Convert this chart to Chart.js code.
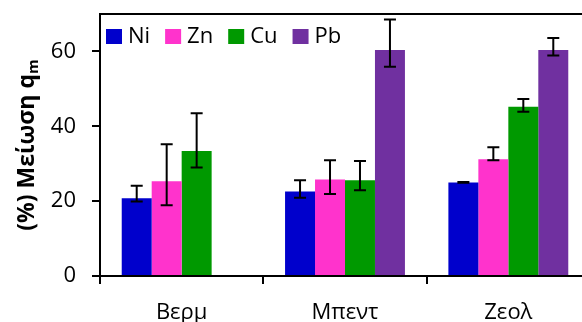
<!DOCTYPE html>
<html>
<head>
<meta charset="utf-8">
<script src="https://cdn.jsdelivr.net/npm/chart.js@4.4.1/dist/chart.umd.min.js"></script>
<style>
    html, body { margin: 0; padding: 0; background: #fff; overflow: hidden; }
    #wrap { width: 590px; height: 322px; }
</style>
</head>
<body>
<div id="wrap"><canvas id="reductionChart" width="590" height="322"></canvas></div>
<script>
// categories and series
const categories = ['Βερμ', 'Μπεντ', 'Ζεολ'];
const metals = ['Ni', 'Zn', 'Cu', 'Pb'];
const metalColors = ['#0000CC', '#FF33CC', '#009900', '#7030A0'];

const niValues = [20.8, 22.6, 25.0];
const znValues = [25.3, 25.8, 31.2];
const cuValues = [33.4, 25.6, 45.2];
const pbValues = [0, 60.4, 60.4];

// error bar ends (low / high)
const niLow = [19.9, 20.9, 24.9];
const niHigh = [24.1, 25.6, 25.1];
const znLow = [18.9, 21.9, 30.9];
const znHigh = [35.2, 30.9, 34.4];
const cuLow = [29.0, 22.9, 43.9];
const cuHigh = [43.5, 30.7, 47.3];
const pbLow = [0, 55.9, 58.9];
const pbHigh = [0, 68.5, 63.6];

const yTicks = [0, 20, 40, 60];
const yMax = 70;

const seriesValues = [niValues, znValues, cuValues, pbValues];
const seriesLow = [niLow, znLow, cuLow, pbLow];
const seriesHigh = [niHigh, znHigh, cuHigh, pbHigh];

const FONT = "'Open Sans', 'DejaVu Sans', sans-serif";

/**
 * Draws error bars, the top frame line, the legend and the y title
 */
const extrasPlugin = {
    id: 'extras',
    afterDatasetsDraw(chart) {
        const ctx = chart.ctx;
        const y = chart.scales.y;
        ctx.save();
        ctx.strokeStyle = '#000';
        ctx.lineWidth = 2;
        chart.data.datasets.forEach((ds, i) => {
            const meta = chart.getDatasetMeta(i);
            meta.data.forEach((bar, j) => {
                const x = bar.x;
                const yl = y.getPixelForValue(seriesLow[i][j]);
                const yh = y.getPixelForValue(seriesHigh[i][j]);
                ctx.beginPath();
                ctx.moveTo(x, yl);
                ctx.lineTo(x, yh);
                ctx.moveTo(x - 6, yl);
                ctx.lineTo(x + 6, yl);
                ctx.moveTo(x - 6, yh);
                ctx.lineTo(x + 6, yh);
                ctx.stroke();
            });
        });

        // top frame line
        const area = chart.chartArea;
        ctx.beginPath();
        ctx.moveTo(area.left - 1, area.top);
        ctx.lineTo(area.right, area.top);
        ctx.stroke();

        // legend inside the plot
        ctx.font = '22px ' + FONT;
        ctx.textBaseline = 'middle';
        ctx.textAlign = 'left';
        let lx = area.left + 6;
        chart.data.datasets.forEach((ds) => {
            ctx.fillStyle = ds.backgroundColor;
            ctx.fillRect(lx, 29, 16, 15);
            ctx.fillStyle = '#000';
            ctx.fillText(ds.label, lx + 22, 36.5);
            lx += 22 + ctx.measureText(ds.label).width + 15;
        });

        // y title with subscript
        ctx.translate(27, (area.top + area.bottom) / 2);
        ctx.rotate(-Math.PI / 2);
        ctx.font = 'bold 23px ' + FONT;
        const main = '(%) Μείωση q';
        const mainW = ctx.measureText(main).width;
        ctx.font = 'bold 15px ' + FONT;
        const subW = ctx.measureText('m').width;
        const start = -(mainW + subW) / 2;
        ctx.font = 'bold 23px ' + FONT;
        ctx.fillText(main, start, 0);
        ctx.font = 'bold 15px ' + FONT;
        ctx.fillText('m', start + mainW, 7);
        ctx.restore();
    }
};

document.addEventListener('DOMContentLoaded', function() {
    const ctx = document.getElementById('reductionChart');

    new Chart(ctx.getContext('2d'), {
        type: 'bar',
        data: {
            labels: categories,
            datasets: metals.map((m, i) => ({
                label: m,
                data: seriesValues[i],
                backgroundColor: metalColors[i],
                borderWidth: 0,
                categoryPercentage: 0.734,
                barPercentage: 1.0
            }))
        },
        options: {
            responsive: false,
            animation: false,
            layout: {
                padding: { top: 14, left: 0, right: 0, bottom: 0 }
            },
            plugins: {
                legend: { display: false },
                tooltip: { enabled: false }
            },
            scales: {
                x: {
                    border: { display: true, color: '#000', width: 2 },
                    grid: {
                        display: true,
                        drawOnChartArea: false,
                        drawTicks: true,
                        tickLength: 8,
                        color: '#000',
                        lineWidth: 2
                    },
                    ticks: {
                        color: '#000',
                        padding: 16,
                        font: { family: FONT, size: 22 }
                    },
                    afterFit: function(axis) {
                        axis.height = 46;
                        axis.paddingLeft = 0;
                        axis.paddingRight = 0;
                    }
                },
                y: {
                    min: 0,
                    max: yMax,
                    border: { display: true, color: '#000', width: 2 },
                    grid: {
                        display: true,
                        drawOnChartArea: false,
                        drawTicks: true,
                        tickLength: 8,
                        color: '#000',
                        lineWidth: 2
                    },
                    ticks: {
                        color: '#000',
                        padding: 16,
                        font: { family: FONT, size: 22 }
                    },
                    afterBuildTicks: function(axis) {
                        axis.ticks = yTicks.map(v => ({ value: v }));
                    },
                    afterFit: function(axis) {
                        axis.width = 100;
                        axis.paddingTop = 0;
                        axis.paddingBottom = 0;
                    }
                }
            }
        },
        plugins: [extrasPlugin]
    });
});
</script>
</body>
</html>
